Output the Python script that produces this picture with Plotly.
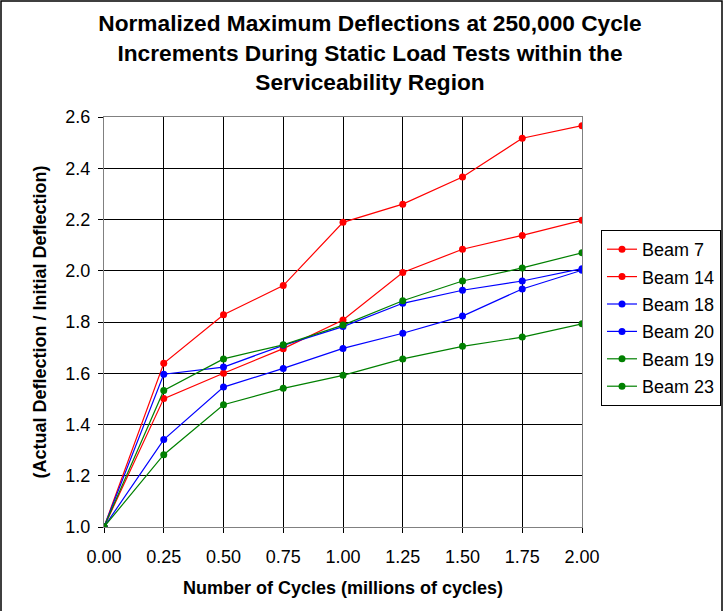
import plotly.graph_objects as go

cycles = [0.0, 0.25, 0.5, 0.75, 1.0, 1.25, 1.5, 1.75, 2.0]
beam7 = [1.0, 1.639, 1.828, 1.942, 2.189, 2.260, 2.366, 2.517, 2.566]
beam14 = [1.0, 1.501, 1.600, 1.696, 1.808, 1.993, 2.084, 2.138, 2.197]
beam18 = [1.0, 1.596, 1.624, 1.709, 1.782, 1.873, 1.924, 1.960, 2.008]
beam20 = [1.0, 1.341, 1.546, 1.619, 1.697, 1.756, 1.823, 1.929, 2.002]
beam19 = [1.0, 1.533, 1.656, 1.711, 1.788, 1.883, 1.960, 2.011, 2.070]
beam23 = [1.0, 1.282, 1.477, 1.541, 1.592, 1.656, 1.705, 1.741, 1.793]

series = [
    ("Beam 7", beam7, "#FF0000"),
    ("Beam 14", beam14, "#FF0000"),
    ("Beam 18", beam18, "#0000FF"),
    ("Beam 20", beam20, "#0000FF"),
    ("Beam 19", beam19, "#008000"),
    ("Beam 23", beam23, "#008000"),
]

W, H = 724, 611
L, R, T, B = 104, 142, 117, 84
pw, ph = W - L - R, H - T - B

fig = go.Figure()
for name, vals, col in series:
    fig.add_trace(go.Scatter(
        x=cycles, y=vals, name=name, mode="lines+markers",
        legendgroup=name,
        line=dict(color=col, width=1.2),
        marker=dict(color=col, size=7),
    ))

font = "Liberation Sans, Arial, sans-serif"
fig.update_layout(
    width=W, height=H,
    margin=dict(l=L, r=R, t=T, b=B, autoexpand=False),
    paper_bgcolor="white", plot_bgcolor="white",
    font=dict(family=font, size=18, color="black"),
    title=dict(
        text="<b>Normalized Maximum Deflections at 250,000 Cycle<br>Increments During Static Load Tests within the<br>Serviceability Region</b>",
        x=370 / W, xanchor="center", y=1 - 31 / H, yanchor="middle",
        font=dict(size=22.7, family=font),
    ),
    xaxis=dict(
        range=[0, 2.0], tickvals=cycles, ticktext=[f"{c:.2f}" for c in cycles],
        showgrid=True, gridcolor="black", gridwidth=1,
        showline=True, linecolor="#808080", linewidth=1, mirror=True,
        ticks="outside", ticklen=5, tickcolor="black",
        ticklabelstandoff=8,
        zeroline=False, tickfont=dict(size=18),
        title=dict(text="<b>Number of Cycles (millions of cycles)</b>", font=dict(size=18), standoff=15),
    ),
    yaxis=dict(
        range=[1.0, 2.6], dtick=0.2, tickformat=".1f",
        showgrid=True, gridcolor="black", gridwidth=1,
        showline=True, linecolor="#808080", linewidth=1, mirror=True,
        ticks="outside", ticklen=5, tickcolor="black",
        ticklabelstandoff=4,
        zeroline=False, tickfont=dict(size=18),
        title=dict(text="<b>(Actual Deflection / Initial Deflection)</b>", font=dict(size=18), standoff=14),
    ),
    legend=dict(
        x=(601 - L) / pw, y=(H - B - 230) / ph, xanchor="left", yanchor="top",
        bordercolor="black", borderwidth=1, bgcolor="white",
        font=dict(size=18), tracegroupgap=1, itemwidth=30,
    ),
    showlegend=True,
)

fig.add_shape(
    type="rect", xref="paper", yref="paper",
    x0=(1 - L) / pw, x1=(W - 2 - L) / pw,
    y0=(H - B - (H + 5)) / ph, y1=(H - B - 1) / ph,
    line=dict(color="black", width=1.5), fillcolor="rgba(0,0,0,0)", layer="below",
)

fig.write_html("out.html", config={"displayModeBar": False},
               post_script="document.body.style.margin='0';")
